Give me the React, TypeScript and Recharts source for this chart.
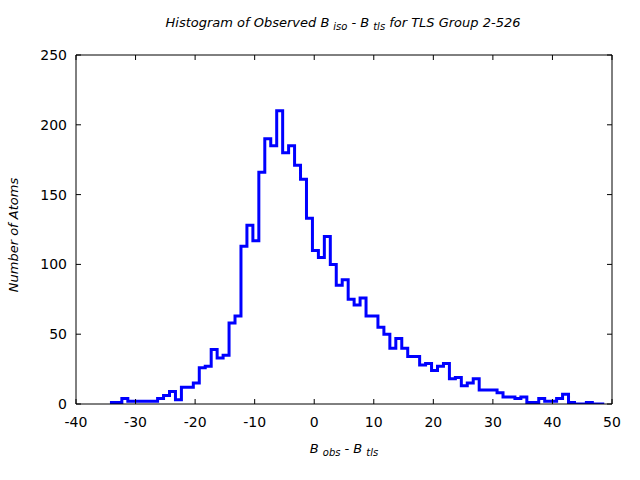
import { LineChart, Line, XAxis, YAxis } from 'recharts';

// histogram of B_obs - B_tls, one count per bin of width 1
const binStart = -34.3;
const binWidth = 1;
const counts = [
  1, 1, 4, 2, 2, 2, 2, 2, 4, 6, 9, 3, 12, 12, 15,
  26, 27, 39, 33, 35, 58, 63,
  113, 128, 117, 166, 190, 185, 210, 180, 185, 171, 161, 133,
  110, 105, 120, 100, 85, 89, 75, 71, 76, 63, 63, 55, 50, 40, 47, 40,
  34, 34, 28, 29, 24, 27, 29, 18, 19, 13, 15, 18,
  10, 10, 10, 8, 5, 5, 4, 5, 1, 1, 4, 2, 2, 4, 7, 1, 0, 0, 1, 0, 0,
];
const xTicks = [-40, -30, -20, -10, 0, 10, 20, 30, 40, 50];
const yTicks = [0, 50, 100, 150, 200, 250];

const data = [
  ...counts.map((c, i) => ({ x: binStart + i * binWidth, n: c })),
  { x: binStart + counts.length * binWidth, n: counts[counts.length - 1] },
];

const FONT = '"DejaVu Sans", sans-serif';
const TICK = 5;

const BottomTick = (p: any) => (
  <g>
    <line x1={p.x} x2={p.x} y1={p.y} y2={p.y - TICK} stroke="#000" />
    <text x={p.x} y={p.y + 23} textAnchor="middle" fontFamily={FONT} fontSize={14} fill="#000">
      {p.payload.value}
    </text>
  </g>
);
const TopTick = (p: any) => <line x1={p.x} x2={p.x} y1={p.y} y2={p.y + TICK} stroke="#000" />;
const LeftTick = (p: any) => (
  <g>
    <line x1={p.x} x2={p.x + TICK} y1={p.y} y2={p.y} stroke="#000" />
    <text x={p.x - 9} y={p.y + 5} textAnchor="end" fontFamily={FONT} fontSize={14} fill="#000">
      {p.payload.value}
    </text>
  </g>
);
const RightTick = (p: any) => <line x1={p.x} x2={p.x - TICK} y1={p.y} y2={p.y} stroke="#000" />;

export default function App() {
  return (
    <div style={{ position: 'absolute', left: 0, top: 0, width: 640, height: 480, background: '#fff' }}>
      <LineChart width={640} height={480} data={data} margin={{ top: 0, right: 0, bottom: 0, left: 0 }}>
        <XAxis xAxisId="b" orientation="bottom" type="number" dataKey="x" domain={[-40, 50]} ticks={xTicks}
          interval={0} height={76} tickSize={0} tickMargin={0} tickLine={false} axisLine={{ stroke: '#000' }}
          tick={BottomTick} allowDataOverflow />
        <XAxis xAxisId="t" orientation="top" type="number" dataKey="x" domain={[-40, 50]} ticks={xTicks}
          interval={0} height={55} tickSize={0} tickMargin={0} tickLine={false} axisLine={{ stroke: '#000' }}
          tick={TopTick} allowDataOverflow />
        <YAxis yAxisId="l" orientation="left" type="number" domain={[0, 250]} ticks={yTicks} interval={0}
          width={76} tickSize={0} tickMargin={0} tickLine={false} axisLine={{ stroke: '#000' }}
          tick={LeftTick} allowDataOverflow />
        <YAxis yAxisId="r" orientation="right" type="number" domain={[0, 250]} ticks={yTicks} interval={0}
          width={28} tickSize={0} tickMargin={0} tickLine={false} axisLine={{ stroke: '#000' }}
          tick={RightTick} allowDataOverflow />
        <Line xAxisId="b" yAxisId="l" type="stepAfter" dataKey="n" stroke="#0000ff" strokeWidth={3}
          dot={false} isAnimationActive={false} />
      </LineChart>
      <svg width={640} height={480} style={{ position: 'absolute', left: 0, top: 0, pointerEvents: 'none' }}
        fontFamily={FONT} fontStyle="italic" fill="#000">
        <text x={343} y={27} textAnchor="middle" fontSize={13}>
          Histogram of Observed B
          <tspan dx={4} dy={3} fontSize={10}>iso</tspan>
          <tspan dy={-3} dx={4}>- B</tspan>
          <tspan dx={4} dy={3} fontSize={10}>tls</tspan>
          <tspan dy={-3} dx={4}>for TLS Group 2-526</tspan>
        </text>
        <text transform="translate(18,235) rotate(-90)" textAnchor="middle" fontSize={13}>
          Number of Atoms
        </text>
        <text x={344} y={453} textAnchor="middle" fontSize={13}>
          B
          <tspan dx={4} dy={3} fontSize={10}>obs</tspan>
          <tspan dy={-3} dx={4}>- B</tspan>
          <tspan dx={4} dy={3} fontSize={10}>tls</tspan>
        </text>
      </svg>
    </div>
  );
}
